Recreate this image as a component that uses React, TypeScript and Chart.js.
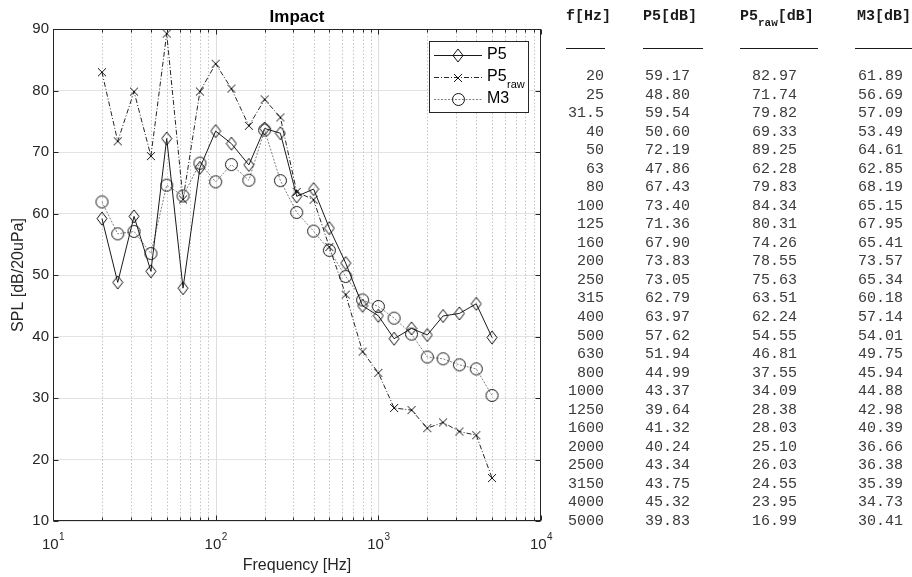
import React, { useEffect, useRef } from "react";
import { Chart, registerables } from "chart.js";
Chart.register(...registerables);

const freqLabels = ["20", "25", "31.5", "40", "50", "63", "80", "100", "125", "160", "200", "250", "315", "400", "500", "630", "800", "1000", "1250", "1600", "2000", "2500", "3150", "4000", "5000"];
const p5 = [59.17, 48.80, 59.54, 50.60, 72.19, 47.86, 67.43, 73.40, 71.36, 67.90, 73.83, 73.05, 62.79, 63.97, 57.62, 51.94, 44.99, 43.37, 39.64, 41.32, 40.24, 43.34, 43.75, 45.32, 39.83];
const p5raw = [82.97, 71.74, 79.82, 69.33, 89.25, 62.28, 79.83, 84.34, 80.31, 74.26, 78.55, 75.63, 63.51, 62.24, 54.55, 46.81, 37.55, 34.09, 28.38, 28.03, 25.10, 26.03, 24.55, 23.95, 16.99];
const m3 = [61.89, 56.69, 57.09, 53.49, 64.61, 62.85, 68.19, 65.15, 67.95, 65.41, 73.57, 65.34, 60.18, 57.14, 54.01, 49.75, 45.94, 44.88, 42.98, 40.39, 36.66, 36.38, 35.39, 34.73, 30.41];
const decadeExps = [1, 2, 3, 4];
const yTicks = [10, 20, 30, 40, 50, 60, 70, 80, 90];

const SANS = "'Liberation Sans', Arial, Helvetica, sans-serif";
const MONO = "'Liberation Mono', 'Courier New', monospace";
const AX = "#262626";

function makeMarker(kind: string): HTMLCanvasElement {
  const c = document.createElement("canvas");
  const ctx = c.getContext("2d")!;
  if (kind === "diamond") {
    c.width = 12; c.height = 15;
    ctx.strokeStyle = "#111"; ctx.lineWidth = 1;
    ctx.beginPath();
    ctx.moveTo(6, 1); ctx.lineTo(11, 7.5); ctx.lineTo(6, 14); ctx.lineTo(1, 7.5); ctx.closePath();
    ctx.stroke();
  } else if (kind === "cross") {
    c.width = 10; c.height = 10;
    ctx.strokeStyle = "#111"; ctx.lineWidth = 1;
    ctx.beginPath();
    ctx.moveTo(1, 1); ctx.lineTo(9, 9); ctx.moveTo(9, 1); ctx.lineTo(1, 9);
    ctx.stroke();
  } else {
    c.width = 15; c.height = 15;
    ctx.strokeStyle = "#111"; ctx.lineWidth = 1;
    ctx.beginPath();
    ctx.arc(7.5, 7.5, 6, 0, Math.PI * 2);
    ctx.stroke();
  }
  return c;
}

export default function App() {
  const ref = useRef<HTMLCanvasElement>(null);
  useEffect(() => {
    const canvas = ref.current!;
    const freqs = freqLabels.map(Number);
    const diamond = makeMarker("diamond");
    const cross = makeMarker("cross");
    const circle = makeMarker("circle");
    const minorVals: number[] = [];
    for (let e = 1; e <= 3; e++) for (let m = 1; m <= 9; m++) minorVals.push(m * Math.pow(10, e));
    minorVals.push(10000);

    const series = [
      { label: "P5", sub: "", data: p5, color: "#1a1a1a", dash: [] as number[], marker: diamond },
      { label: "P5", sub: "raw", data: p5raw, color: "#262626", dash: [5, 2, 1, 2], marker: cross },
      { label: "M3", sub: "", data: m3, color: "#808080", dash: [2, 1.5], marker: circle },
    ];

    const deco = {
      id: "deco",
      beforeDatasetsDraw(chart: any) {
        const { ctx, chartArea: a, scales } = chart;
        const xs = scales.x;
        ctx.save();
        for (const v of minorVals) {
          if (v <= 10 || v >= 10000) continue;
          const px = Math.round(xs.getPixelForValue(v)) + 0.5;
          const isDec = Math.abs(Math.log10(v) - Math.round(Math.log10(v))) < 1e-9;
          ctx.beginPath();
          if (isDec) { ctx.setLineDash([]); ctx.strokeStyle = "#dedede"; }
          else { ctx.setLineDash([1.5, 2]); ctx.strokeStyle = "#c4c4c4"; }
          ctx.lineWidth = 1;
          ctx.moveTo(px, a.top); ctx.lineTo(px, a.bottom);
          ctx.stroke();
        }
        ctx.restore();
      },
      afterDatasetsDraw(chart: any) {
        const { ctx, chartArea: a, scales } = chart;
        const xs = scales.x, ys = scales.y;
        ctx.save();
        ctx.setLineDash([]);
        ctx.strokeStyle = AX; ctx.lineWidth = 1;
        const L = Math.round(a.left) + 0.5, R = Math.round(a.right) - 0.5;
        const T = Math.round(a.top) + 0.5, B = Math.round(a.bottom) - 0.5;
        ctx.strokeRect(L, T, R - L, B - T);
        for (const v of yTicks) {
          const py = Math.round(ys.getPixelForValue(v)) + 0.5;
          ctx.beginPath();
          ctx.moveTo(L, py); ctx.lineTo(L + 5, py);
          ctx.moveTo(R, py); ctx.lineTo(R - 5, py);
          ctx.stroke();
        }
        for (const v of minorVals) {
          const px = Math.round(xs.getPixelForValue(v)) + 0.5;
          const isDec = Math.abs(Math.log10(v) - Math.round(Math.log10(v))) < 1e-9;
          const len = isDec ? 5 : 3;
          ctx.beginPath();
          ctx.moveTo(px, B); ctx.lineTo(px, B - len);
          ctx.moveTo(px, T); ctx.lineTo(px, T + len);
          ctx.stroke();
        }
        ctx.fillStyle = AX;
        ctx.textBaseline = "alphabetic";
        for (const e of decadeExps) {
          const px = xs.getPixelForValue(Math.pow(10, e));
          ctx.font = `15px ${SANS}`;
          const w1 = ctx.measureText("10").width;
          ctx.font = `10px ${SANS}`;
          const w2 = ctx.measureText(String(e)).width;
          const x0 = px - (w1 + w2) / 2;
          ctx.font = `15px ${SANS}`;
          ctx.textAlign = "left";
          ctx.fillText("10", x0, a.bottom + 28);
          ctx.font = `10px ${SANS}`;
          ctx.fillText(String(e), x0 + w1 + 0.5, a.bottom + 19);
        }
        ctx.font = `bold 17px ${SANS}`;
        ctx.textAlign = "center";
        ctx.textBaseline = "middle";
        ctx.fillStyle = "#000";
        ctx.fillText("Impact", (a.left + a.right) / 2, 17);
        const lx = 429.5, ly = 41.5, lw = 99, lh = 71;
        ctx.fillStyle = "#fff";
        ctx.fillRect(lx, ly, lw, lh);
        ctx.strokeStyle = AX;
        ctx.strokeRect(lx, ly, lw, lh);
        const rows = [55, 77, 99];
        series.forEach((s, i) => {
          const y = rows[i] + 0.5;
          ctx.beginPath();
          ctx.setLineDash(s.dash);
          ctx.strokeStyle = s.color;
          ctx.lineWidth = 1;
          ctx.moveTo(434, y); ctx.lineTo(482, y);
          ctx.stroke();
          ctx.setLineDash([]);
          ctx.drawImage(s.marker, Math.round(458 - s.marker.width / 2), Math.round(y - s.marker.height / 2));
          ctx.fillStyle = "#000";
          ctx.textAlign = "left";
          ctx.textBaseline = "middle";
          ctx.font = `16px ${SANS}`;
          ctx.fillText(s.label, 487, rows[i]);
          if (s.sub) {
            const w = ctx.measureText(s.label).width;
            ctx.font = `11px ${SANS}`;
            ctx.fillText(s.sub, 487 + w + 0.5, rows[i] + 8);
          }
        });
        ctx.restore();
      },
    };

    const chart = new Chart(canvas, {
      type: "line",
      data: {
        datasets: series.map((s) => ({
          label: s.sub ? s.label + s.sub : s.label,
          data: freqs.map((f, i) => ({ x: f, y: s.data[i] })),
          borderColor: s.color,
          borderWidth: 1,
          borderDash: s.dash,
          pointStyle: s.marker as any,
          pointRadius: 6,
          pointHoverRadius: 6,
          fill: false,
          tension: 0,
        })),
      },
      options: {
        animation: false,
        responsive: false,
        events: [],
        layout: { padding: { left: 0, right: 371, top: 29, bottom: 0 } },
        plugins: { legend: { display: false }, title: { display: false }, tooltip: { enabled: false } },
        scales: {
          x: {
            type: "logarithmic",
            min: 10,
            max: 10000,
            afterBuildTicks: (s: any) => { s.ticks = minorVals.map((v) => ({ value: v })); },
            afterFit: (s: any) => { s.height = 56; },
            ticks: { display: false },
            grid: { display: false },
            border: { display: false },
            title: { display: true, text: "Frequency [Hz]", color: AX, font: { size: 16, family: SANS }, padding: { top: 0, bottom: 1.5 } },
          },
          y: {
            min: 10,
            max: 90,
            afterFit: (s: any) => { s.width = 53; },
            afterBuildTicks: (s: any) => { s.ticks = yTicks.map((v) => ({ value: v })); },
            ticks: { color: AX, font: { size: 15, family: SANS }, padding: 4 },
            grid: { color: "#e3e3e3", drawTicks: false },
            border: { display: false },
            title: { display: true, text: "SPL [dB/20uPa]", color: AX, font: { size: 16, family: SANS }, padding: { top: 8.5, bottom: 0 } },
          },
        },
      } as any,
      plugins: [deco],
    });
    return () => chart.destroy();
  }, []);

  const rightEdges = [604, 690, 797, 903];
  const rowY = (i: number) => 77 + i * 18.54;
  const cell = (text: string, right: number, y: number, key: string) => (
    <div key={key} style={{ position: "absolute", right: 912 - right, top: y - 9, height: 18, lineHeight: "18px", fontFamily: MONO, fontSize: 15, color: "#3a3a3a", whiteSpace: "pre" }}>{text}</div>
  );
  const headStyle: React.CSSProperties = { position: "absolute", top: 8, height: 18, lineHeight: "18px", fontFamily: MONO, fontSize: 15, fontWeight: "bold", color: "#1a1a1a", whiteSpace: "pre" };
  const underlines = [[566, 605], [643, 703], [740, 818], [855, 912]];

  return (
    <div style={{ position: "fixed", left: 0, top: 0, width: 912, height: 577, background: "#fff", overflow: "hidden" }}>
      <canvas ref={ref} width={912} height={577} style={{ position: "absolute", left: 0, top: 0 }} />
      <div style={{ ...headStyle, left: 566 }}>f[Hz]</div>
      <div style={{ ...headStyle, left: 643 }}>P5[dB]</div>
      <div style={{ ...headStyle, left: 740 }}>P5<span style={{ fontSize: 11, position: "relative", top: 6 }}>raw</span>[dB]</div>
      <div style={{ ...headStyle, left: 857 }}>M3[dB]</div>
      {underlines.map(([a, b], i) => (
        <div key={"u" + i} style={{ position: "absolute", left: a, width: b - a, top: 48, height: 0, borderTop: "1.5px solid #1a1a1a" }} />
      ))}
      {freqLabels.map((f, i) => [
        cell(f, rightEdges[0], rowY(i), "f" + i),
        cell(p5[i].toFixed(2), rightEdges[1], rowY(i), "a" + i),
        cell(p5raw[i].toFixed(2), rightEdges[2], rowY(i), "b" + i),
        cell(m3[i].toFixed(2), rightEdges[3], rowY(i), "c" + i),
      ])}
    </div>
  );
}
